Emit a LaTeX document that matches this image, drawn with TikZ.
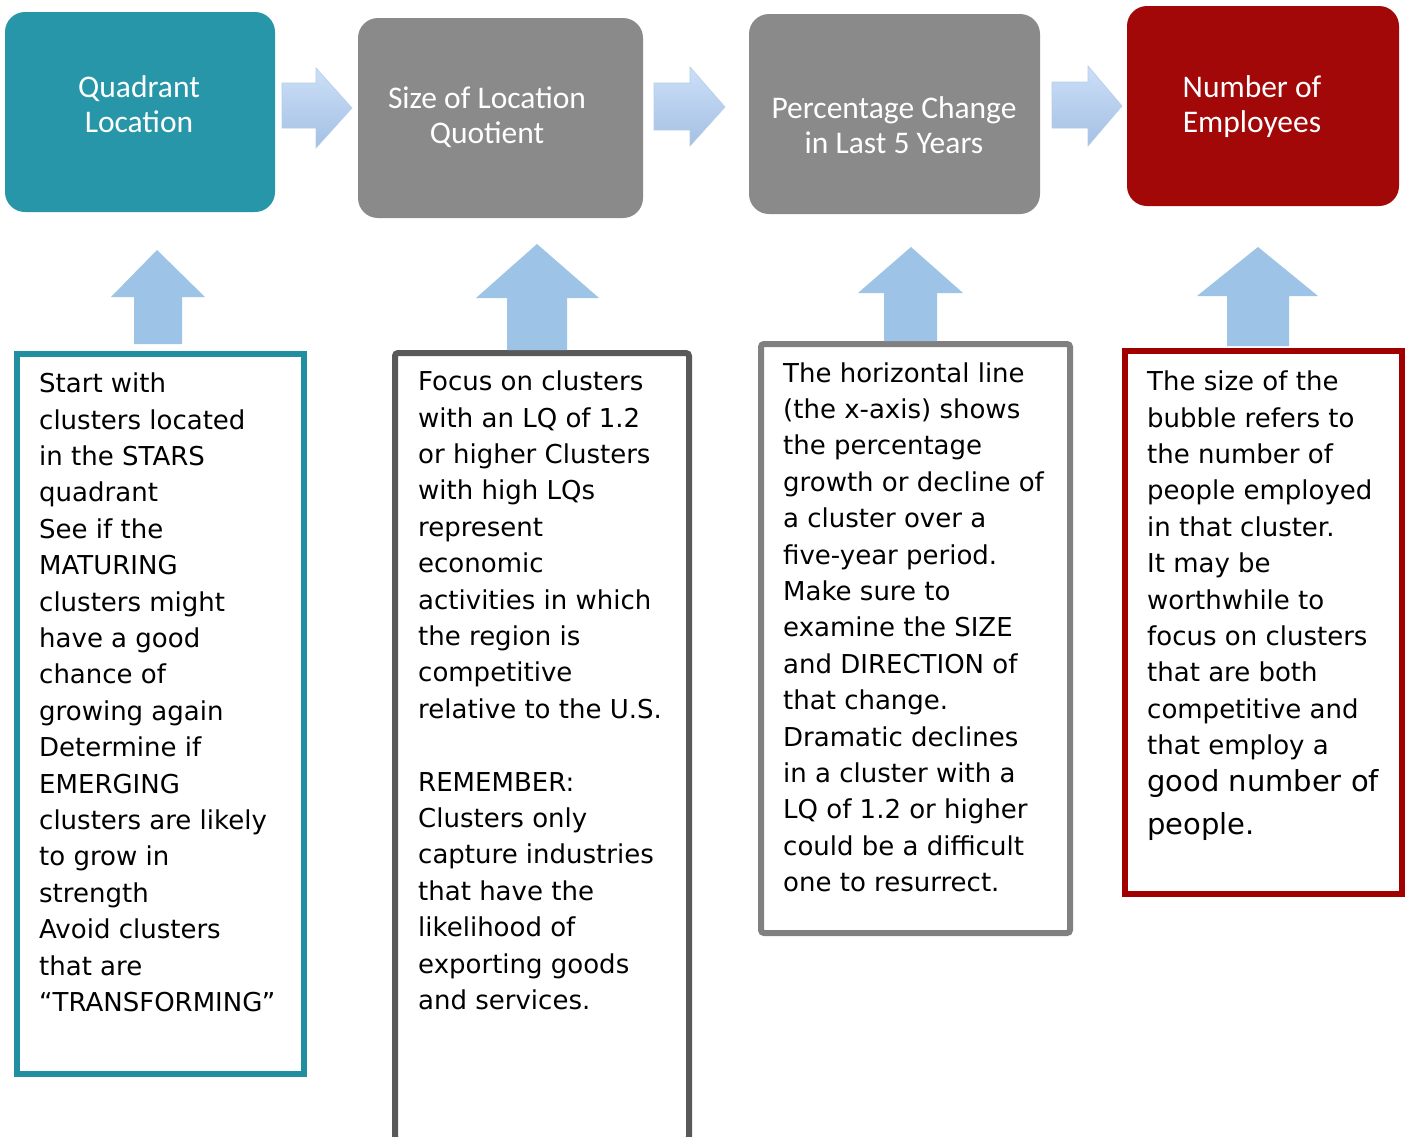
\documentclass[tikz,border=0pt]{standalone}
\usepackage{fontspec}
\setmainfont{DejaVu Sans}
\newfontfamily\headfont{Carlito}
\definecolor{tealH}{RGB}{38,150,168}
\definecolor{tealB}{RGB}{33,143,160}
\definecolor{grayH}{RGB}{138,138,138}
\definecolor{redH}{RGB}{163,8,8}
\definecolor{redB}{RGB}{160,0,0}
\definecolor{grayBtwo}{RGB}{89,89,89}
\definecolor{grayBthree}{RGB}{128,128,128}
\definecolor{arrowUp}{RGB}{157,195,230}
\definecolor{arrowTop}{RGB}{204,223,247}
\definecolor{arrowBot}{RGB}{164,192,228}
\begin{document}
\begin{tikzpicture}[x=1pt,y=-1pt,
  hbox/.style={rectangle, rounded corners=20pt, inner sep=0pt, outer sep=0pt, draw=none},
  tbox/.style={rectangle, inner sep=0pt, outer sep=0pt, line width=6pt, fill=white},
  htext/.style={font=\headfont\fontsize{31.5}{35}\selectfont, text=white, align=center, anchor=north, inner sep=0pt},
  btext/.style={font=\fontsize{26}{36.4}\selectfont, text=black, align=left, anchor=north west, inner sep=0pt},
  bigtext/.style={font=\fontsize{29}{43}\selectfont, text=black, align=left, anchor=north west, inner sep=0pt},
  uparrow/.style={fill=arrowUp, draw=none},
  rarrow/.style={top color=arrowTop, bottom color=arrowBot, draw=arrowBot!80!white, line width=0.6pt}
]
\useasboundingbox (0,0) rectangle (1406,1136);
\fill[white] (0,0) rectangle (1406,1136);

% header boxes
\node[hbox, fill=tealH, minimum width=270pt, minimum height=200pt] (h1) at (140,112) {};
\node[hbox, fill=grayH, minimum width=285pt, minimum height=200pt] (h2) at (500.5,118) {};
\node[hbox, fill=grayH, minimum width=291pt, minimum height=200pt] (h3) at (894.5,114) {};
\node[hbox, fill=redH, minimum width=272pt, minimum height=200pt] (h4) at (1263,106) {};

\node[htext] (ht1) at (139,73) {\strut Quadrant\\Location};
\node[htext] (ht2) at (487,83.5) {\strut Size of Location\\Quotient};
\node[htext] (ht3) at (894,93.5) {\strut Percentage Change\\in Last 5 Years};
\node[htext] (ht4) at (1252,73) {\strut Number of\\Employees};

% horizontal block arrows
\path[rarrow] (282,83) -- (316,83) -- (316,68) -- (352,108) -- (316,148) -- (316,128) -- (282,128) -- cycle;
\path[rarrow] (654,83) -- (690,83) -- (690,67) -- (725,107) -- (690,146) -- (690,130) -- (654,130) -- cycle;
\path[rarrow] (1052,82) -- (1088,82) -- (1088,66) -- (1122,106) -- (1088,146) -- (1088,128) -- (1052,128) -- cycle;

% text boxes
\node[tbox, draw=tealB, minimum width=287pt, minimum height=720pt] (b1) at (160.5,714) {};
\node[tbox, draw=grayBtwo, rounded corners=3pt, minimum width=294pt, minimum height=787pt] (b2) at (542,746.5) {};
\node[tbox, draw=grayBthree, rounded corners=3pt, minimum width=309pt, minimum height=589pt] (b3) at (915.5,638.5) {};
\node[tbox, draw=redB, minimum width=277pt, minimum height=543pt] (b4) at (1263.5,622.5) {};

% vertical block arrows
\fill[uparrow] (134,344) -- (134,297) -- (111,297) -- (157,250) -- (205,297) -- (182,297) -- (182,344) -- cycle;
\fill[uparrow] (507,350) -- (507,298) -- (476,298) -- (537,244) -- (599,298) -- (567,298) -- (567,350) -- cycle;
\fill[uparrow] (884,341) -- (884,293) -- (858,293) -- (911,247) -- (963,293) -- (937,293) -- (937,341) -- cycle;
\fill[uparrow] (1227,346) -- (1227,296) -- (1197,296) -- (1258,247) -- (1318,296) -- (1289,296) -- (1289,346) -- cycle;

% texts
\node[btext] (t1) at (39,367) {\strut Start with\\clusters located\\in the STARS\\quadrant\\See if the\\MATURING\\clusters might\\have a good\\chance of\\growing again\\Determine if\\EMERGING\\clusters are likely\\to grow in\\strength\\Avoid clusters\\that are\\“TRANSFORMING”};
\node[btext] (t2) at (418,365) {\strut Focus on clusters\\with an LQ of 1.2\\or higher Clusters\\with high LQs\\represent\\economic\\activities in which\\the region is\\competitive\\relative to the U.S.\\[36.4pt]REMEMBER:\\Clusters only\\capture industries\\that have the\\likelihood of\\exporting goods\\and services.};
\node[btext] (t3) at (783,356.5) {\strut The horizontal line\\(the x-axis) shows\\the percentage\\growth or decline of\\a cluster over a\\five-year period.\\Make sure to\\examine the SIZE\\and DIRECTION of\\that change.\\Dramatic declines\\in a cluster with a\\LQ of 1.2 or higher\\could be a difficult\\one to resurrect.};
\node[btext] (t4) at (1147,365) {\strut The size of the\\bubble refers to\\the number of\\people employed\\in that cluster.\\It may be\\worthwhile to\\focus on clusters\\that are both\\competitive and\\that employ a};
\node[bigtext] (t4b) at (1147,761) {\strut good number of\\people.};
\end{tikzpicture}
\end{document}
